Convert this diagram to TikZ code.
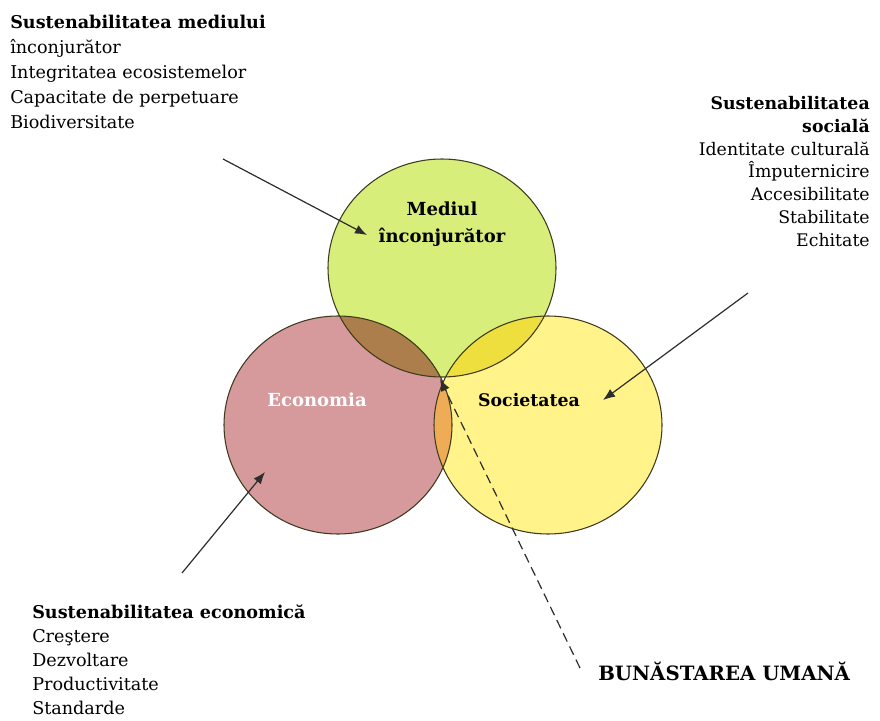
\documentclass[tikz,border=0pt]{standalone}
\usepackage{fontspec}
\setmainfont{DejaVu Serif}
\usetikzlibrary{arrows.meta}

\definecolor{mediucol}{RGB}{215,238,123}
\definecolor{economcol}{RGB}{214,154,156}
\definecolor{sociocol}{RGB}{255,243,138}
\definecolor{meconcol}{RGB}{172,126,76}
\definecolor{msoccol}{RGB}{238,222,62}
\definecolor{esoccol}{RGB}{238,172,86}
\definecolor{triplecol}{RGB}{110,76,40}
\definecolor{rimcol}{RGB}{62,58,30}

\begin{document}
\begin{tikzpicture}[x=0.75pt,y=0.75pt,yscale=-1,xscale=1,
	ring/.style={x radius=114,y radius=109},
	ptr/.style={draw={rgb,255:red,45;green,45;blue,45},line width=0.9pt,-{Latex[length=9pt,width=7pt]}},
	txt/.style={inner sep=0.75pt,font=\fontsize{13.2}{18.75}\selectfont},
	ctxt/.style={inner sep=0.75pt,font=\fontsize{13.5}{20}\selectfont\bfseries,align=center}]
	\useasboundingbox (0,0) rectangle (880,720);
	
	\coordinate (mediu) at (442,268);
	\coordinate (econ) at (338,425);
	\coordinate (socio) at (548,425);
	
	%Shape: Ellipse [mediu] 
	\fill [mediucol] (mediu) ellipse [ring];
	%Shape: Ellipse [econ] 
	\fill [economcol] (econ) ellipse [ring];
	%Shape: Ellipse [socio] 
	\fill [sociocol] (socio) ellipse [ring];
	%overlaps
	\begin{scope}
		\clip (mediu) ellipse [ring];
		\fill [meconcol] (econ) ellipse [ring];
		\fill [msoccol] (socio) ellipse [ring];
	\end{scope}
	\begin{scope}
		\clip (econ) ellipse [ring];
		\fill [esoccol] (socio) ellipse [ring];
		\clip (mediu) ellipse [ring];
		\fill [triplecol] (socio) ellipse [ring];
	\end{scope}
	%rims
	\draw [rimcol,line width=0.8pt] (mediu) ellipse [ring] (econ) ellipse [ring] (socio) ellipse [ring];
	
	% Text Node
	\node [txt,anchor=north west,align=left] (envtext) at (9,13.5) {{\bfseries Sustenabilitatea mediului}\\înconjurător\\Integritatea ecosistemelor\\Capacitate de perpetuare\\Biodiversitate};
	% Text Node
	\node [txt,anchor=north east,align=right,font=\fontsize{13}{17.1}\selectfont] (soctext) at (871,95) {{\bfseries Sustenabilitatea}\\{\bfseries socială}\\Identitate culturală\\Împuternicire\\Accesibilitate\\Stabilitate\\Echitate};
	% Text Node
	\node [txt,anchor=north west,align=left,font=\fontsize{13.2}{18}\selectfont] (ecotext) at (31,604) {{\bfseries Sustenabilitatea economică}\\Creştere\\Dezvoltare\\Productivitate\\Standarde};
	% Text Node
	\node [txt,anchor=base west,font=\fontsize{14.8}{16}\selectfont\bfseries] (wellbeing) at (597,680) {BUNĂSTAREA UMANĂ};
	
	% Text Node
	\node [ctxt] (mediulbl) at (442,224) {Mediul\\înconjurător};
	% Text Node
	\node [ctxt,white] (econlbl) at (317,400) {Economia};
	% Text Node
	\node [ctxt,font=\fontsize{13}{20}\selectfont\bfseries] (sociolbl) at (529,400) {Societatea};
	
	\coordinate (envfrom) at (223,159);
	\coordinate (envto) at (367,235);
	\coordinate (ecofrom) at (182,573);
	\coordinate (ecoto) at (265,472);
	\coordinate (socfrom) at (748,293);
	\coordinate (socto) at (603,400);
	\coordinate (wellfrom) at (580,668);
	\coordinate (wellto) at (440,379);
	
	\draw [ptr] (envfrom) -- (envto);
	\draw [ptr] (ecofrom) -- (ecoto);
	\draw [ptr] (socfrom) -- (socto);
	\draw [ptr,dash pattern={on 7pt off 4pt}] (wellfrom) -- (wellto);
	
\end{tikzpicture}
\end{document}
